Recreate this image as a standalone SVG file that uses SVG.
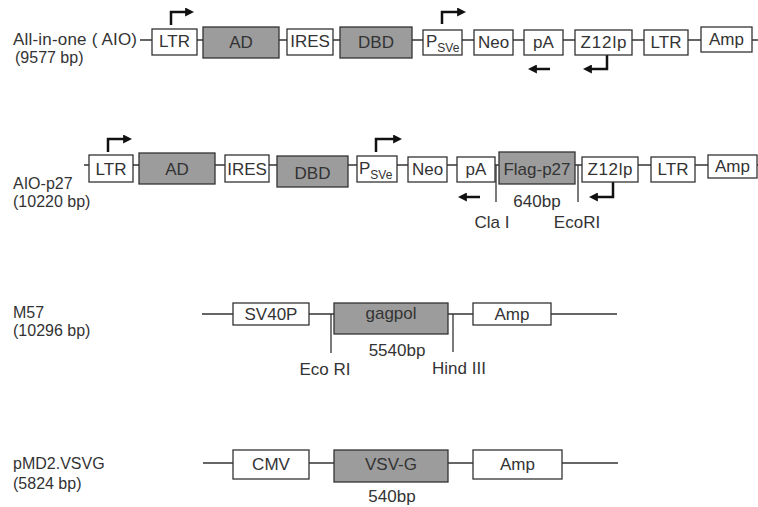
<svg xmlns="http://www.w3.org/2000/svg" width="758" height="507" viewBox="0 0 758 507">
<defs>
<marker id="ah" viewBox="0 0 10 10" refX="1" refY="5" markerWidth="9" markerHeight="9" markerUnits="userSpaceOnUse" orient="auto"><path d="M0,0 L10,5 L0,10 z" fill="#111"/></marker>
<style>
.bb{fill:#fff;stroke:#333;stroke-width:1.3}
.gb{fill:#9c9c9c;stroke:#333;stroke-width:1.3}
.ln{stroke:#333;stroke-width:1.3;fill:none}
.ar{stroke:#111;stroke-width:2.5;fill:none;marker-end:url(#ah)}
text{font-family:"Liberation Sans",Arial,sans-serif;font-size:17px;fill:#333}
.c{text-anchor:middle}
.s{font-size:12px}
.lb{font-size:16px}
</style>
</defs>
<g id="connectors">
<line class="ln" x1="140" y1="40" x2="758" y2="40"/>
<line class="ln" x1="84" y1="165" x2="758" y2="165"/>
<line class="ln" x1="202" y1="314" x2="617" y2="314"/>
<line class="ln" x1="203" y1="463" x2="618" y2="463"/>
<line class="ln" x1="496" y1="165" x2="496" y2="202"/>
<line class="ln" x1="578" y1="165" x2="578" y2="202"/>
<line class="ln" x1="331" y1="314" x2="331" y2="353"/>
<line class="ln" x1="453" y1="314" x2="453" y2="352"/>
<path class="ar" d="M171,25 V12 H186"/>
<path class="ar" d="M442,24 V12 H458"/>
<path class="ar" d="M550,69 H536"/>
<path class="ar" d="M607,55 V69 H591"/>
<path class="ar" d="M108,152 V139 H124"/>
<path class="ar" d="M376,152 V139 H394"/>
<path class="ar" d="M480,197 H466"/>
<path class="ar" d="M613,182 V197 H597"/>
</g>
<g id="aio">
<text x="13" y="45" textLength="124" lengthAdjust="spacing">All-in-one ( AIO)</text>
<text class="lb" x="15" y="63">(9577 bp)</text>
</g>
<g id="aio-ltr1"><rect class="bb" x="152" y="29" width="45" height="26"/><text class="c" x="174.5" y="47">LTR</text></g>
<g id="aio-ad"><rect class="gb" x="203" y="27" width="76" height="31"/><text class="c" x="241" y="48">AD</text></g>
<g id="aio-ires"><rect class="bb" x="287" y="29" width="46" height="26"/><text class="c" x="310" y="47">IRES</text></g>
<g id="aio-dbd"><rect class="gb" x="340" y="27" width="72" height="31"/><text class="c" x="376" y="48">DBD</text></g>
<g id="aio-psve"><rect class="bb" x="423" y="30" width="39" height="25"/><text x="426" y="47">P<tspan class="s" dy="5">SVe</tspan></text></g>
<g id="aio-neo"><rect class="bb" x="474" y="30" width="39" height="25"/><text class="c" x="493.5" y="48">Neo</text></g>
<g id="aio-pa"><rect class="bb" x="524" y="30" width="39" height="25"/><text class="c" x="543.5" y="48">pA</text></g>
<g id="aio-z12lp"><rect class="bb" x="575" y="30" width="57" height="25"/><text class="c" x="603.5" y="48" textLength="46" lengthAdjust="spacing">Z12lp</text></g>
<g id="aio-ltr2"><rect class="bb" x="644" y="30" width="44" height="25"/><text class="c" x="666" y="48">LTR</text></g>
<g id="aio-amp"><rect class="bb" x="701" y="27" width="51" height="25"/><text class="c" x="726.5" y="45">Amp</text></g>

<g id="p27">
<text class="lb" x="13" y="189">AIO-p27</text>
<text class="lb" x="13" y="207">(10220 bp)</text>
</g>
<g id="p27-ltr1"><rect class="bb" x="89" y="155" width="44" height="27"/><text class="c" x="111" y="175">LTR</text></g>
<g id="p27-ad"><rect class="gb" x="139" y="153" width="76" height="31"/><text class="c" x="177" y="175">AD</text></g>
<g id="p27-ires"><rect class="bb" x="225" y="155" width="44" height="27"/><text class="c" x="247" y="175">IRES</text></g>
<g id="p27-dbd"><rect class="gb" x="277" y="156" width="71" height="31"/><text class="c" x="312.5" y="179">DBD</text></g>
<g id="p27-psve"><rect class="bb" x="357" y="156" width="40" height="26"/><text x="359" y="174">P<tspan class="s" dy="5">SVe</tspan></text></g>
<g id="p27-neo"><rect class="bb" x="408" y="157" width="39" height="25"/><text class="c" x="427.5" y="175">Neo</text></g>
<g id="p27-pa"><rect class="bb" x="457" y="157" width="38" height="25"/><text class="c" x="476" y="175">pA</text></g>
<g id="p27-flag"><rect class="gb" x="499" y="152" width="76" height="32"/><text class="c" x="537" y="175">Flag-p27</text></g>
<g id="p27-z12lp"><rect class="bb" x="582" y="157" width="56" height="25"/><text class="c" x="610" y="175" textLength="45" lengthAdjust="spacing">Z12lp</text></g>
<g id="p27-ltr2"><rect class="bb" x="651" y="157" width="44" height="25"/><text class="c" x="673" y="175">LTR</text></g>
<g id="p27-amp"><rect class="bb" x="708" y="155" width="49" height="23"/><text class="c" x="732.5" y="172">Amp</text></g>
<g id="p27-labels">
<text class="c" x="537" y="207">640bp</text>
<text class="c" x="492" y="228">Cla I</text>
<text class="c" x="577" y="228">EcoRI</text>
</g>

<g id="m57">
<text class="lb" x="13" y="318">M57</text>
<text class="lb" x="13" y="336">(10296 bp)</text>
</g>
<g id="m57-sv40p"><rect class="bb" x="233" y="303" width="76" height="22"/><text class="c" x="271" y="320">SV40P</text></g>
<g id="m57-gagpol"><rect class="gb" x="334" y="303" width="114" height="31"/><text class="c" x="391" y="319">gagpol</text></g>
<g id="m57-amp"><rect class="bb" x="473" y="303" width="78" height="22"/><text class="c" x="512" y="320">Amp</text></g>
<g id="m57-labels">
<text class="c" x="397" y="356">5540bp</text>
<text class="c" x="325" y="375">Eco RI</text>
<text class="c" x="459" y="374">Hind III</text>
</g>

<g id="vsvg">
<text class="lb" x="13" y="469">pMD2.VSVG</text>
<text class="lb" x="13" y="489">(5824 bp)</text>
</g>
<g id="vsvg-cmv"><rect class="bb" x="233" y="450" width="76" height="29"/><text class="c" x="271" y="470">CMV</text></g>
<g id="vsvg-vsvg"><rect class="gb" x="334" y="450" width="114" height="32"/><text class="c" x="391" y="470">VSV-G</text></g>
<g id="vsvg-amp"><rect class="bb" x="473" y="450" width="89" height="29"/><text class="c" x="517.5" y="470">Amp</text></g>
<g id="vsvg-labels">
<text class="c" x="392" y="502">540bp</text>
</g>
</svg>
